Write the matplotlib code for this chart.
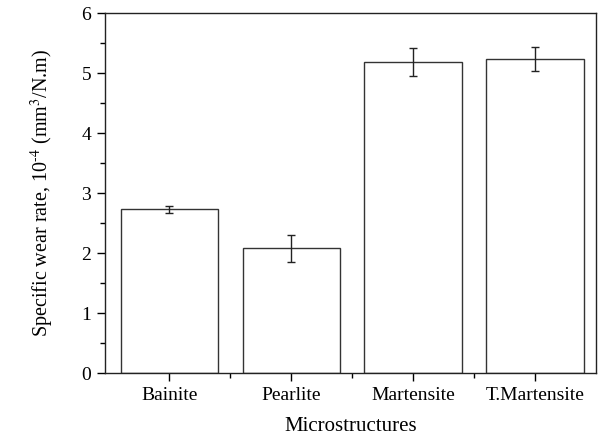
import matplotlib
matplotlib.use('Agg')
import matplotlib.pyplot as plt
from matplotlib.ticker import MultipleLocator, FixedLocator

# Data
categories = ['Bainite', 'Pearlite', 'Martensite', 'T.Martensite']
wear_rate = [2.73, 2.08, 5.19, 5.24]
wear_err = [0.06, 0.22, 0.23, 0.20]

plt.rcParams['font.family'] = 'Liberation Serif'
plt.rcParams['mathtext.fontset'] = 'stix'

fig = plt.figure(figsize=(6.03, 4.38), dpi=100)
ax = fig.add_axes([0.174, 0.148, 0.814, 0.822])

x = list(range(len(categories)))
ax.bar(x, wear_rate, width=0.8, color='white', edgecolor='#333333', linewidth=1.0,
       yerr=wear_err, error_kw=dict(ecolor='#222222', elinewidth=1.0, capsize=3, capthick=1.0))

ax.set_xlim(-0.53, 3.5)
ax.set_ylim(0, 6)
ax.set_xticks(x)
ax.set_xticklabels(categories)
ax.xaxis.set_minor_locator(FixedLocator([0.5, 1.5, 2.5]))
ax.yaxis.set_major_locator(MultipleLocator(1))
ax.yaxis.set_minor_locator(MultipleLocator(0.5))
ax.tick_params(axis='both', which='major', direction='out', length=6, width=1, labelsize=14,
               pad=4, top=False, right=False)
ax.tick_params(axis='both', which='minor', direction='out', length=3.5, width=1, top=False, right=False)
for s in ax.spines.values():
    s.set_linewidth(1.0)
    s.set_color('#222222')

ax.set_xlabel('Microstructures', fontsize=15, labelpad=9)
ax.set_ylabel(r'Specific wear rate, 10$^{\text{-}4}$ (mm$^{3}$/N.m)', fontsize=14.5, labelpad=18)

fig.savefig('out.png', dpi=100)
